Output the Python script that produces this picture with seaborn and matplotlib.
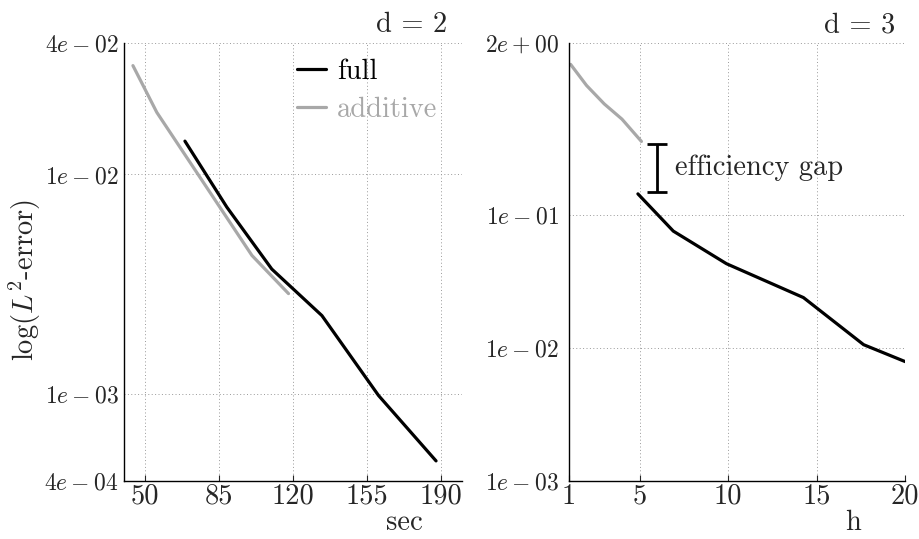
import matplotlib
matplotlib.use("Agg")
import matplotlib.pyplot as plt
import seaborn as sns
import pandas as pd
import numpy as np

# d = 2 panel (x in sec)
full2_x = [68.8, 88.6, 109.9, 133.6, 160.4, 187.6]
full2_y = [1.42e-2, 7.1e-3, 3.7e-3, 2.27e-3, 9.8e-4, 4.93e-4]
add2_x = [44.2, 55.5, 100.5, 117.8]
add2_y = [3.14e-2, 1.92e-2, 4.27e-3, 2.86e-3]

# d = 3 panel (x in h)
full3_x = [4.9, 6.9, 9.9, 14.25, 17.65, 20.0]
full3_y = [0.145, 0.076, 0.0432, 0.024, 0.0106, 0.0079]
add3_x = [1.1, 2.0, 3.0, 4.0, 5.1]
add3_y = [1.37, 0.95, 0.69, 0.53, 0.36]

gap_x = 6.0
gap_lo, gap_hi = 0.151, 0.343

xticks2 = [50, 85, 120, 155, 190]
yticks2 = [4e-4, 1e-3, 1e-2, 4e-2]
ylabels2 = [r"$4e-04$", r"$1e-03$", r"$1e-02$", r"$4e-02$"]
xticks3 = [1, 5, 10, 15, 20]
yticks3 = [1e-3, 1e-2, 1e-1, 2]
ylabels3 = [r"$1e-03$", r"$1e-02$", r"$1e-01$", r"$2e+00$"]

BLACK = "black"
GRAY = "#a8a8a8"

sns.set_style("white")
plt.rcParams["font.family"] = "serif"
plt.rcParams["font.serif"] = ["cmr10", "DejaVu Serif"]
plt.rcParams["mathtext.fontset"] = "cm"
plt.rcParams["axes.unicode_minus"] = False
plt.rcParams["axes.formatter.use_mathtext"] = True
FS_BIG = 20.5   # legend, titles, annotation, axis labels
FS_XT = 20.5    # x tick labels
FS_YT = 17      # y tick labels

fig = plt.figure(figsize=(9.19, 5.39), dpi=100)
ax1 = fig.add_axes([0.135, 0.108, 0.368, 0.813])
ax2 = fig.add_axes([0.619, 0.108, 0.366, 0.813])


def style_axis(ax, xticks, yticks, ylabels, xlim, ylim, ypad):
    ax.set_yscale("log")
    ax.set_xlim(*xlim)
    ax.set_ylim(*ylim)
    ax.set_xticks(xticks)
    ax.set_xticklabels([str(t) for t in xticks], fontsize=FS_XT)
    ax.set_yticks(yticks)
    ax.set_yticklabels(ylabels, fontsize=FS_YT)
    ax.minorticks_off()
    ax.grid(True, which="major", linestyle=(0, (1, 2.5)), color="#999999", linewidth=0.7)
    for s in ["top", "right"]:
        ax.spines[s].set_visible(False)
    for s in ["left", "bottom"]:
        ax.spines[s].set_color("black")
        ax.spines[s].set_linewidth(1.0)
    ax.tick_params(axis="x", direction="in", length=4, width=0.8, pad=2, bottom=True)
    ax.tick_params(axis="y", direction="in", length=0, pad=ypad, left=True)


df2 = pd.concat([
    pd.DataFrame({"x": full2_x, "y": full2_y, "method": "full"}),
    pd.DataFrame({"x": add2_x, "y": add2_y, "method": "additive"}),
])
df3 = pd.concat([
    pd.DataFrame({"x": full3_x, "y": full3_y, "method": "full"}),
    pd.DataFrame({"x": add3_x, "y": add3_y, "method": "additive"}),
])
pal = {"full": BLACK, "additive": GRAY}

sns.lineplot(data=df2, x="x", y="y", hue="method", palette=pal, linewidth=2.3,
             sort=False, estimator=None, ax=ax1)
sns.lineplot(data=df3, x="x", y="y", hue="method", palette=pal, linewidth=2.3,
             sort=False, estimator=None, legend=False, ax=ax2)

style_axis(ax1, xticks2, yticks2, ylabels2, (40, 200), (4e-4, 4e-2), 4)
style_axis(ax2, xticks3, yticks3, ylabels3, (1, 20), (1e-3, 2), 7)

# legend
leg = ax1.legend(loc="upper left", bbox_to_anchor=(0.478, 0.99), frameon=False,
                 fontsize=FS_BIG, handlelength=1.0, handletextpad=0.4,
                 borderaxespad=0, labelspacing=0.42)
for txt, c in zip(leg.get_texts(), [BLACK, GRAY]):
    txt.set_color(c)

# efficiency gap marker
gap_mid = np.sqrt(gap_lo * gap_hi)
ax2.errorbar([gap_x], [gap_mid], yerr=[[gap_mid - gap_lo], [gap_hi - gap_mid]],
             fmt="none", ecolor="black", elinewidth=2, capsize=7, capthick=2)
ax2.text(7.0, gap_mid, "efficiency gap", fontsize=FS_BIG, va="center", ha="left")

# labels
ax1.set_xlabel("sec", fontsize=FS_BIG)
ax1.xaxis.set_label_coords(0.83, -0.066)
ax2.set_xlabel("h", fontsize=FS_BIG)
ax2.xaxis.set_label_coords(0.845, -0.066)
ax1.set_ylabel(r"$\log(L^2$-$\mathrm{error})$", fontsize=FS_BIG)
ax1.yaxis.set_label_coords(-0.241, 0.458)
ax2.set_ylabel("")

ax1.text(0.955, 1.04, "d = 2", transform=ax1.transAxes, fontsize=FS_BIG, ha="right", va="center")
ax2.text(0.97, 1.04, "d = 3", transform=ax2.transAxes, fontsize=FS_BIG, ha="right", va="center")

fig.savefig("out.png", dpi=100)
